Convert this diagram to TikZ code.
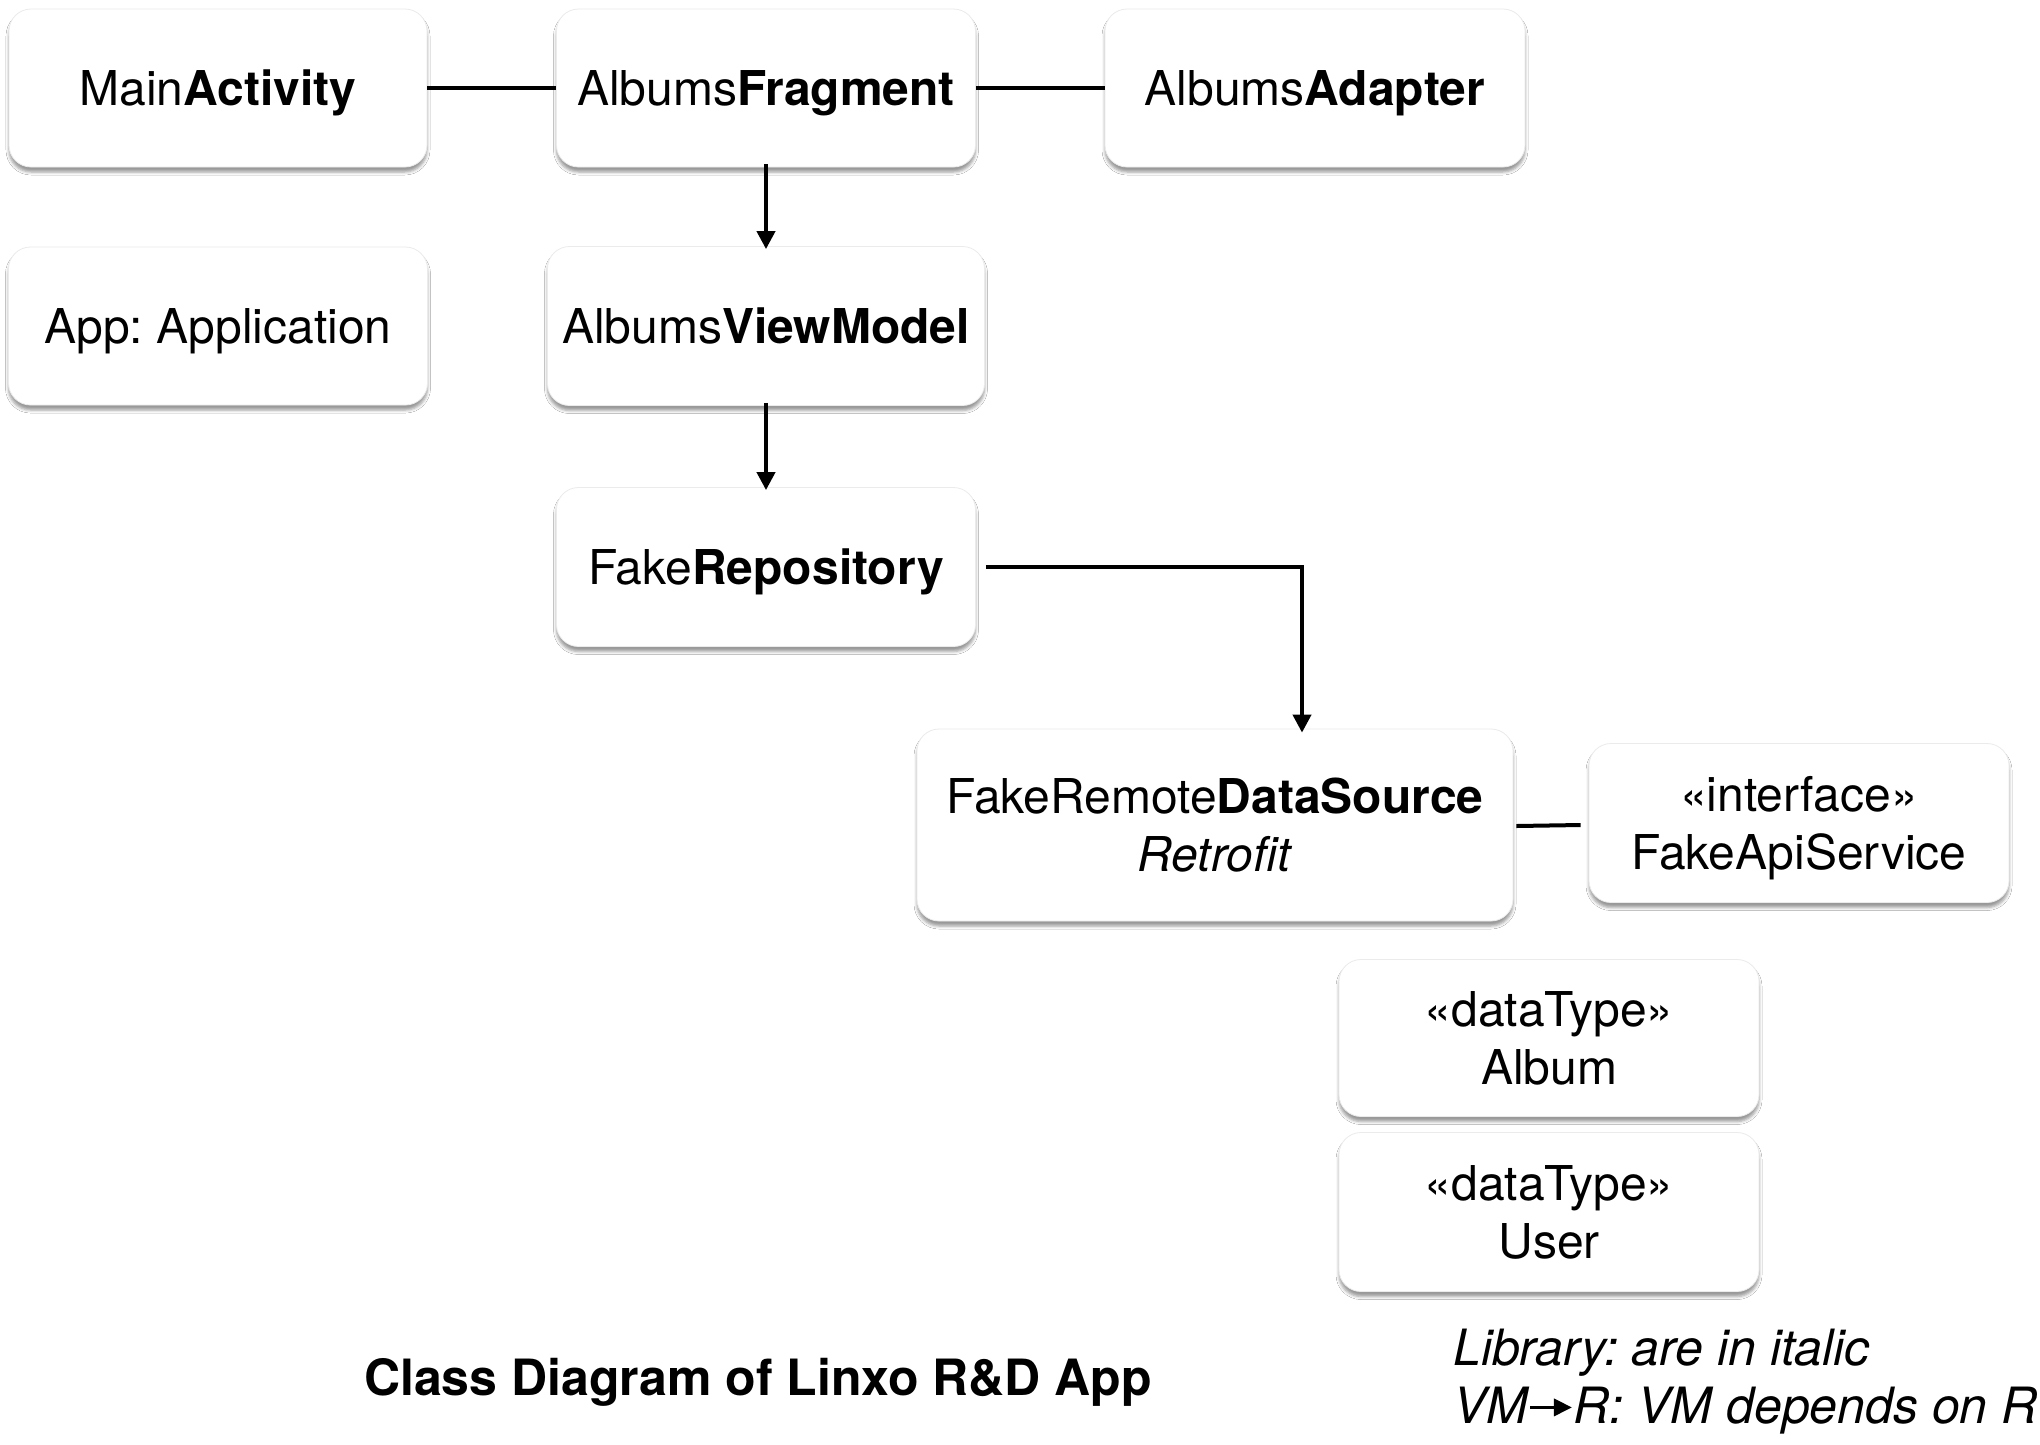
\documentclass[tikz,border=0pt]{standalone}
\usepackage{fontspec}
\setmainfont{TeX Gyre Heros}
\frenchspacing
\usetikzlibrary{arrows.meta,shadows.blur}
\begin{document}
\begin{tikzpicture}[x=1pt,y=-1pt,
  cls/.style={draw=black!8, line width=0.8pt, fill=white, rounded corners=22pt, align=center,
    font=\fontsize{48}{58}\selectfont, inner sep=0pt, text depth=0pt,
    blur shadow={shadow xshift=0pt, shadow yshift=-5pt, shadow blur radius=3pt, shadow opacity=40}},
  link/.style={line width=4pt},
  arr/.style={line width=4pt, -{Triangle[length=18pt,width=18pt]}}]
\useasboundingbox (0,0) rectangle (2040,1444);
\fill[white] (0,0) rectangle (2040,1444);
\node[cls, minimum width=418pt, minimum height=158pt] (main) at (218,88) {Main\textbf{Activity}};
\node[cls, minimum width=419pt, minimum height=158pt] (frag) at (766,88) {Albums\textbf{Fragment}};
\node[cls, minimum width=420pt, minimum height=158pt] (adap) at (1315,88) {Albums\textbf{Adapter}};
\node[cls, minimum width=419pt, minimum height=158pt] (app) at (218,326) {App: Application};
\node[cls, minimum width=437pt, minimum height=159pt] (vm) at (766,326) {Albums\textbf{ViewModel}};
\node[cls, minimum width=419pt, minimum height=159pt] (repo) at (766,567) {Fake\textbf{Repository}};
\node[cls, minimum width=596pt, minimum height=192pt] (frds) at (1215,825) {FakeRemote\textbf{DataSource}\\\textit{Retrofit}};
\node[cls, minimum width=420pt, minimum height=159pt] (api) at (1799,823) {«interface»\\FakeApiService};
\node[cls, minimum width=420pt, minimum height=157pt] (album) at (1549,1038) {«dataType»\\Album};
\node[cls, minimum width=420pt, minimum height=159pt] (user) at (1549,1212) {«dataType»\\User};

\draw[link] (main.east) -- (frag.west);
\draw[link] (frag.east) -- (adap.west);
\draw[arr] ([yshift=3pt]frag.south) -- ([yshift=-3pt]vm.north);
\draw[arr] ([yshift=3pt]vm.south) -- ([yshift=-3pt]repo.north);
\draw[arr] ([xshift=10pt]repo.east) -| ([xshift=87pt,yshift=-4pt]frds.north);
\draw[link] ([xshift=3pt,yshift=-1pt]frds.east) -- ([xshift=-8pt]frds.east -| api.west);

\node[font=\fontsize{50}{60}\selectfont\bfseries] (title) at (758,1382) {Class Diagram of Linxo R\&D App};
\node[font=\fontsize{50}{60}\selectfont\itshape, anchor=west, inner sep=0pt] (leg1) at (1453,1353) {Library: are in italic};
\node[font=\fontsize{50}{60}\selectfont\itshape, anchor=west, inner sep=0pt] (leg2) at (1453,1411) {VM{\tikz[baseline=-0.33em]\draw[line width=3.5pt,-{Triangle[length=18pt,width=17pt]}] (0,0) -- (42pt,0);}R: VM depends on R};
\end{tikzpicture}
\end{document}
